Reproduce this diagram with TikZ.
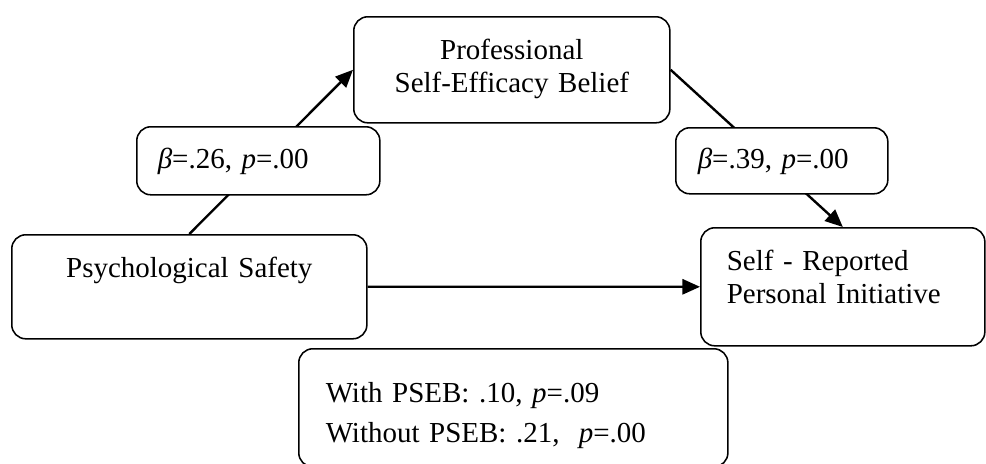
\documentclass[tikz,border=0pt]{standalone}
\usepackage{fontspec}
\setmainfont{Liberation Serif}
\usetikzlibrary{arrows.meta}

\begin{document}
\begin{tikzpicture}[x=0.025cm, y=-0.025cm, font=\fontsize{20.6}{23.5}\selectfont,
    box/.style={draw, line width=1.1pt, rounded corners=0.35cm, fill=white, anchor=north west, inner ysep=0pt},
    arr/.style={line width=1.7pt, -{Triangle[length=0.44cm, width=0.38cm]}}]
    \useasboundingbox (0,0) rectangle (986,463);

    % variables
    \node[box, text width=7.9cm, inner xsep=0pt, align=center, text height=1.075cm, text depth=1.575cm] (pseb) at (353,16) {Professional\\ Self-Efficacy Belief};
    \node[box, text width=8.875cm, inner xsep=0pt, align=center, text height=1.075cm, text depth=1.525cm] (ps) at (11,234) {Psychological Safety};
    \node[box, text width=5.8cm, inner xsep=0.65cm, align=left, text height=1.075cm, text depth=1.875cm] (srpi) at (700,227) {Self - Reported\\ Personal Initiative};

    % paths
    \draw[arr] (ps.north) -- (pseb.west);
    \draw[arr] (pseb.east) -- (srpi.north);
    \draw[arr] (ps.east) -- (srpi.west);

    % coefficients
    \node[box, text width=5.025cm, inner xsep=0.525cm, align=left, text height=1.05cm, text depth=0.65cm] (beta1) at (136,126) {\textit{β}=.26, \textit{p}=.00};
    \node[box, text width=4.2cm, inner xsep=0.55cm, align=left, text height=1.025cm, text depth=0.625cm] (beta2) at (675,127) {\textit{β}=.39, \textit{p}=.00};
    \node[box, text width=9.375cm, inner xsep=0.675cm, align=left, text height=1.35cm, text depth=1.6cm] (direct) at (298,348) {With PSEB: .10, \textit{p}=.09\\[0.17cm] Without PSEB: .21,\ \ \textit{p}=.00};
\end{tikzpicture}
\end{document}
